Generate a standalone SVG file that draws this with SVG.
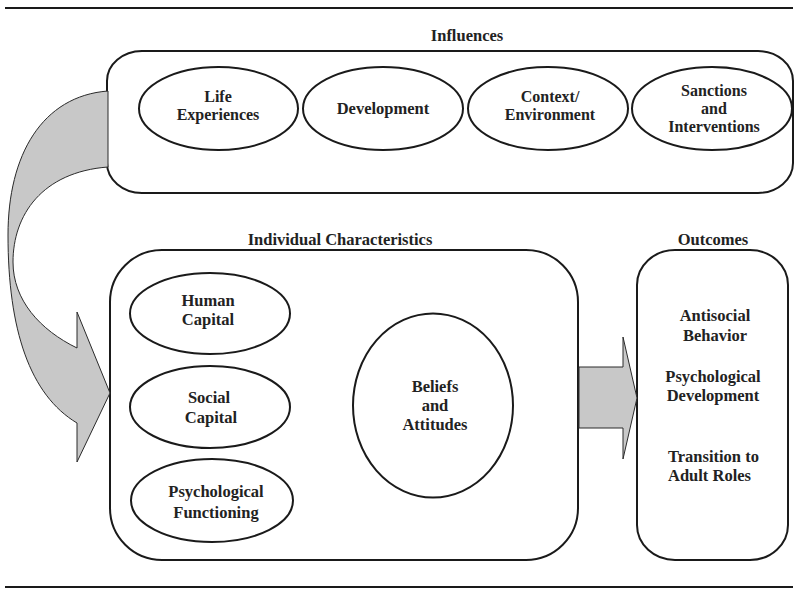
<svg xmlns="http://www.w3.org/2000/svg" width="800" height="593" viewBox="0 0 800 593">
<style>
.box{fill:#fff;stroke:#1a1a1a;stroke-width:2}
.ell{fill:#fff;stroke:#1a1a1a;stroke-width:2}
.arr{fill:#c8c8c8;stroke:#2a2a2a;stroke-width:1}
.rule{stroke:#1a1a1a;stroke-width:2}
text{font-family:"Liberation Serif","Times New Roman",serif;font-weight:bold;font-size:16.5px;fill:#222;text-anchor:middle}
.sm{font-size:16px}
</style>
<rect width="800" height="593" fill="#fff"/>
<line class="rule" x1="5" y1="8" x2="793" y2="8"/>
<line class="rule" x1="5" y1="587" x2="793" y2="587"/>

<g id="influences">
<text x="467" y="41">Influences</text>
<rect class="box" x="107" y="51" width="686" height="142" rx="35" ry="30"/>
</g>
<g id="life-experiences">
<ellipse class="ell" cx="218.5" cy="108.5" rx="79.5" ry="41.5"/>
<text class="sm" x="218" y="102">Life</text><text class="sm" x="218" y="120">Experiences</text>
</g>
<g id="development">
<ellipse class="ell" cx="383" cy="108.5" rx="80" ry="41.5"/>
<text x="383" y="114">Development</text>
</g>
<g id="context">
<ellipse class="ell" cx="548" cy="108.5" rx="80" ry="41.5"/>
<text class="sm" x="550" y="102">Context/</text><text class="sm" x="550" y="120">Environment</text>
</g>
<g id="sanctions">
<ellipse class="ell" cx="712" cy="108.5" rx="80" ry="41.5"/>
<text class="sm" x="714" y="96">Sanctions</text><text class="sm" x="714" y="114">and</text><text class="sm" x="714" y="132">Interventions</text>
</g>

<g id="individual">
<text x="340" y="245">Individual Characteristics</text>
<rect class="box" x="110" y="250" width="468" height="310" rx="52" ry="52"/>
</g>
<g id="human-capital">
<ellipse class="ell" cx="210" cy="313.5" rx="80" ry="40.5"/>
<text x="208" y="306">Human</text><text x="208" y="325">Capital</text>
</g>
<g id="social-capital">
<ellipse class="ell" cx="210" cy="407" rx="80" ry="41"/>
<text x="209" y="403">Social</text><text x="211" y="423">Capital</text>
</g>
<g id="psych-functioning">
<ellipse class="ell" cx="212" cy="500.5" rx="81" ry="41.5"/>
<text x="216" y="497">Psychological</text><text x="216" y="518">Functioning</text>
</g>
<g id="beliefs">
<ellipse class="ell" cx="433" cy="405.5" rx="80" ry="92"/>
<text x="435" y="392">Beliefs</text><text x="435" y="411">and</text><text x="435" y="430">Attitudes</text>
</g>

<g id="outcomes">
<text x="713" y="245">Outcomes</text>
<rect class="box" x="637" y="250" width="151" height="310" rx="38" ry="35"/>
<text x="715" y="321">Antisocial</text><text x="715" y="341">Behavior</text>
<text x="713" y="382">Psychological</text><text x="713" y="401">Development</text>
<text x="668" y="462" style="text-anchor:start">Transition to</text><text x="668" y="481" style="text-anchor:start">Adult Roles</text>
</g>

<g id="connectors">
<path class="arr" d="M108,91 C42,96 8,155 8,235 C8,330 30,395 77,423 L77,462 L110,393 L77,312 L77,348 C40,330 13,300 13,262 C13,215 42,172 108,167 Z"/>
<path class="arr" d="M579,367 L623,367 L623,337 L637,398 L623,459 L623,428 L579,428 Z"/>
</g>
</svg>
